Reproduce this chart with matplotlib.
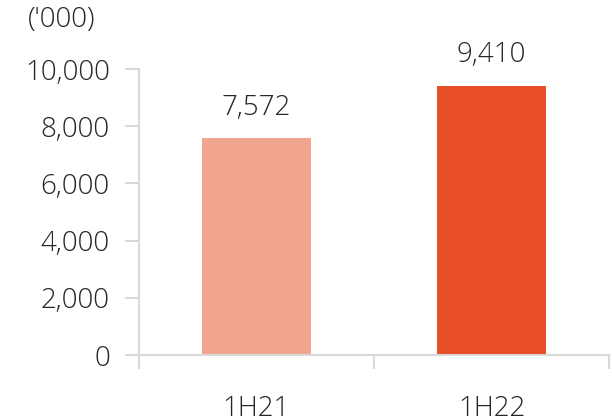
import matplotlib
matplotlib.use("Agg")
import matplotlib.pyplot as plt
from matplotlib.ticker import FuncFormatter, FixedLocator

categories = ["1H21", "1H22"]
values = [7572, 9410]
colors = ["#F3A68F", "#E84E25"]
yticks = [0, 2000, 4000, 6000, 8000, 10000]

plt.rcParams['font.family'] = ['Open Sans', 'DejaVu Sans']
plt.rcParams['font.weight'] = 'light'
txt = "#262626"
grey = "#D9D9D9"

fig = plt.figure(figsize=(6.12, 4.18), dpi=100)
ax = fig.add_axes([139/612, (418-355)/418, (609-139)/612, (355-69)/418])
x = list(range(len(categories)))
bars = ax.bar(x, values, width=0.46, color=colors, zorder=2)
for xi, v in zip(x, values):
    ax.annotate(f"{v:,}", (xi, v), xytext=(0, 12), textcoords="offset points",
                ha="center", va="bottom", fontsize=20, color=txt)

ax.set_xlim(-0.5, len(categories) - 0.5)
ax.set_ylim(0, 10000)
ax.set_yticks(yticks)
ax.yaxis.set_major_formatter(FuncFormatter(lambda v, p: f"{int(v):,}"))
ax.set_xticks(x)
ax.set_xticklabels(categories)
ax.xaxis.set_minor_locator(FixedLocator([-0.5, 0.5, 1.5]))
ax.tick_params(axis="x", which="major", length=0, pad=29, labelsize=20, labelcolor=txt)
ax.tick_params(axis="x", which="minor", length=10, width=1.5, color=grey, direction="out")
ax.tick_params(axis="y", length=10, width=1.5, color=grey, pad=11, labelsize=20, labelcolor=txt)
for s in ["top", "right"]:
    ax.spines[s].set_visible(False)
for s in ["left", "bottom"]:
    ax.spines[s].set_color(grey)
    ax.spines[s].set_linewidth(1.5)

fig.text(62/612, 1 - 20/418, "('000)", ha="center", va="center", fontsize=20, color=txt)
fig.savefig("out.png", dpi=100)
